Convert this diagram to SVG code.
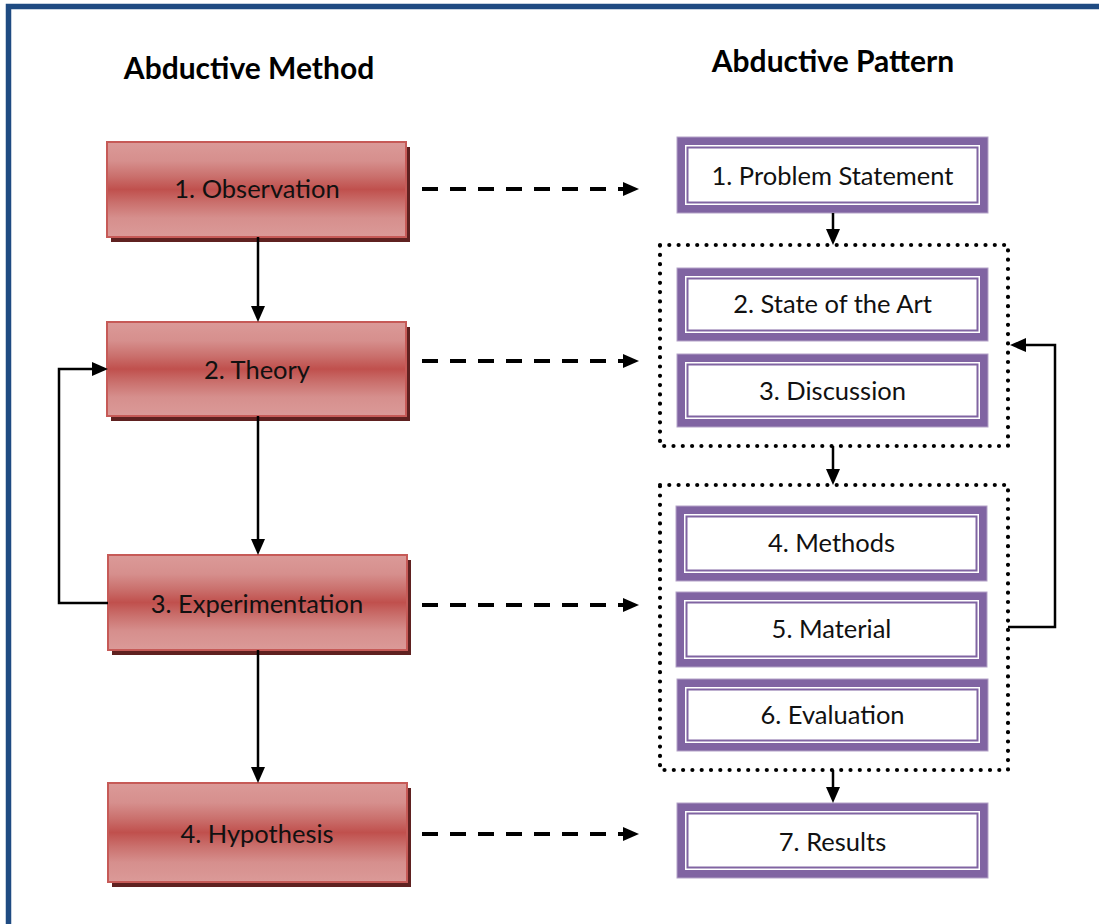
<svg xmlns="http://www.w3.org/2000/svg" width="1099" height="924" viewBox="0 0 1099 924">
  <defs>
    <!-- Glossy red fill for the method steps -->
    <linearGradient id="redFill" x1="0" y1="0" x2="0" y2="1">
      <stop offset="0" stop-color="#db9a98"/>
      <stop offset="0.2" stop-color="#d68f8d"/>
      <stop offset="0.36" stop-color="#ca706d"/>
      <stop offset="0.5" stop-color="#c0504d"/>
      <stop offset="0.64" stop-color="#ca706d"/>
      <stop offset="0.8" stop-color="#d68f8d"/>
      <stop offset="1" stop-color="#db9a98"/>
    </linearGradient>
    <marker id="head" viewBox="0 0 16 14" refX="8" refY="7" markerWidth="16" markerHeight="14" markerUnits="userSpaceOnUse" orient="auto">
      <path d="M0,0 L16,7 L0,14 Z" fill="#000"/>
    </marker>
    <style>
      .title { font-family: Lato, "Liberation Sans", sans-serif; font-weight: bold; font-size: 30px; text-anchor: middle; fill: #000; }
      .lbl { font-family: Lato, "Liberation Sans", sans-serif; font-size: 25.5px; text-anchor: middle; fill: #111; }
      .shadow { fill: #5f2120; }
      .red { fill: url(#redFill); stroke: #c65a57; stroke-width: 2; }
      .band { fill: #8064a2; stroke: #b3a2c7; stroke-width: 1; }
      .gap { fill: #fff; }
      .inner { fill: #fff; stroke: #8064a2; stroke-width: 2; }
      .link { fill: none; stroke: #000; stroke-width: 2.5; }
      .dash { fill: none; stroke: #000; stroke-width: 4; stroke-dasharray: 16 12; }
      .dots { fill: none; stroke: #000; stroke-width: 4.2; stroke-linecap: round; stroke-dasharray: 0 9.3; }
    </style>
  </defs>

  <rect width="1099" height="924" fill="#fff"/>
  <!-- frame -->
  <rect x="8.5" y="6.5" width="1200" height="1000" fill="none" stroke="#1f4b82" stroke-width="5.5"/>

  <!-- column headings -->
  <text class="title" x="249" y="79">Abductive Method</text>
  <text class="title" x="833" y="72">Abductive Pattern</text>

  <!-- method steps -->
  <g id="observation">
    <rect class="shadow" x="111" y="147" width="299" height="95"/>
    <rect class="red" x="107" y="142" width="299" height="95"/>
    <text class="lbl" x="257" y="198">1. Observation</text>
  </g>
  <g id="theory">
    <rect class="shadow" x="111" y="327" width="299" height="94"/>
    <rect class="red" x="107" y="322" width="299" height="94"/>
    <text class="lbl" x="257" y="379">2. Theory</text>
  </g>
  <g id="experimentation">
    <rect class="shadow" x="112" y="560" width="299" height="95"/>
    <rect class="red" x="108" y="555" width="299" height="95"/>
    <text class="lbl" x="257" y="613">3. Experimentation</text>
  </g>
  <g id="hypothesis">
    <rect class="shadow" x="112" y="788" width="299" height="99"/>
    <rect class="red" x="108" y="783" width="299" height="99"/>
    <text class="lbl" x="257" y="843">4. Hypothesis</text>
  </g>

  <!-- pattern sections -->
  <g id="problem-statement">
    <rect class="band" x="677" y="137" width="311" height="76"/>
    <rect class="gap" x="685" y="145" width="295" height="60"/>
    <rect class="inner" x="687.5" y="147.5" width="290" height="55"/>
    <text class="lbl" x="832.5" y="185">1. Problem Statement</text>
  </g>
  <g id="state-of-the-art">
    <rect class="band" x="677" y="268" width="311" height="73"/>
    <rect class="gap" x="685" y="276" width="295" height="57"/>
    <rect class="inner" x="687.5" y="278.5" width="290" height="52"/>
    <text class="lbl" x="832.5" y="313">2. State of the Art</text>
  </g>
  <g id="discussion">
    <rect class="band" x="677" y="354" width="311" height="73"/>
    <rect class="gap" x="685" y="362" width="295" height="57"/>
    <rect class="inner" x="687.5" y="364.5" width="290" height="52"/>
    <text class="lbl" x="832.5" y="400">3. Discussion</text>
  </g>
  <g id="methods">
    <rect class="band" x="676" y="506" width="311" height="75"/>
    <rect class="gap" x="684" y="514" width="295" height="59"/>
    <rect class="inner" x="686.5" y="516.5" width="290" height="54"/>
    <text class="lbl" x="831.5" y="552">4. Methods</text>
  </g>
  <g id="material">
    <rect class="band" x="676" y="592" width="311" height="75"/>
    <rect class="gap" x="684" y="600" width="295" height="59"/>
    <rect class="inner" x="686.5" y="602.5" width="290" height="54"/>
    <text class="lbl" x="831.5" y="638">5. Material</text>
  </g>
  <g id="evaluation">
    <rect class="band" x="677" y="679" width="311" height="72"/>
    <rect class="gap" x="685" y="687" width="295" height="56"/>
    <rect class="inner" x="687.5" y="689.5" width="290" height="51"/>
    <text class="lbl" x="832.5" y="724">6. Evaluation</text>
  </g>
  <g id="results">
    <rect class="band" x="677" y="803" width="311" height="75"/>
    <rect class="gap" x="685" y="811" width="295" height="59"/>
    <rect class="inner" x="687.5" y="813.5" width="290" height="54"/>
    <text class="lbl" x="832.5" y="851">7. Results</text>
  </g>

  <!-- section groupings -->
  <g id="review-group">
    <rect class="dots" x="660" y="245" width="348" height="201"/>
  </g>
  <g id="study-group">
    <rect class="dots" x="660" y="485" width="348" height="285"/>
  </g>

  <g id="connectors">
    <!-- method flow -->
    <path class="link" d="M258,237 V314" marker-end="url(#head)"/>
    <path class="link" d="M258,416 V547" marker-end="url(#head)"/>
    <path class="link" d="M258,650 V775" marker-end="url(#head)"/>
    <path class="link" d="M108,603 H59 V369 H100" marker-end="url(#head)"/>
    <!-- method to pattern -->
    <path class="dash" d="M422,189 H631" marker-end="url(#head)"/>
    <path class="dash" d="M422,361 H631" marker-end="url(#head)"/>
    <path class="dash" d="M422,605 H631" marker-end="url(#head)"/>
    <path class="dash" d="M422,834 H631" marker-end="url(#head)"/>
    <!-- pattern flow -->
    <path class="link" d="M833,213 V237" marker-end="url(#head)"/>
    <path class="link" d="M833,446 V477" marker-end="url(#head)"/>
    <path class="link" d="M833,770 V795" marker-end="url(#head)"/>
    <path class="link" d="M1008,627 H1055 V345 H1018" marker-end="url(#head)"/>
  </g>
</svg>
